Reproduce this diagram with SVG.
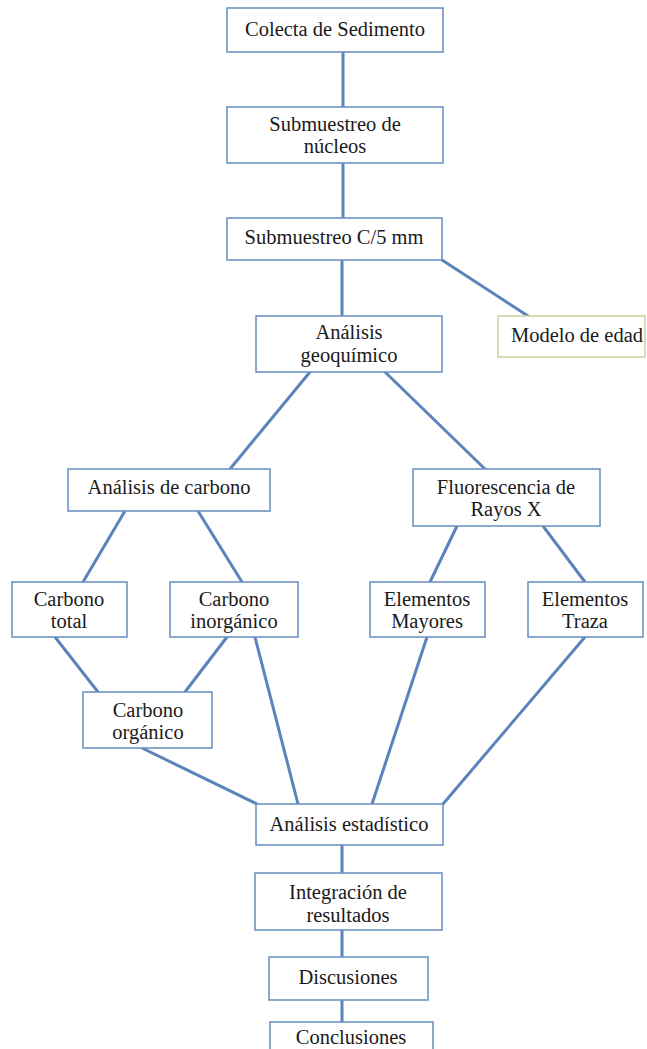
<svg xmlns="http://www.w3.org/2000/svg" width="647" height="1049" viewBox="0 0 647 1049">
<style>
.b{fill:#ffffff;stroke:#6f93c4;stroke-width:1.6}
.g{fill:#ffffff;stroke:#c6d89f;stroke-width:1.6}
.c{stroke:#5b84bb;stroke-width:3;fill:none;stroke-linecap:round}
text{font-family:"Liberation Serif","Times New Roman",serif;font-size:20.5px;fill:#1a1a1a;text-anchor:middle}
</style>
<rect width="647" height="1049" fill="#ffffff"/>
<g id="connectors">
<line class="c" x1="343" y1="52" x2="343" y2="107"/>
<line class="c" x1="343" y1="163" x2="343" y2="218"/>
<line class="c" x1="342" y1="260" x2="342" y2="316"/>
<line class="c" x1="442" y1="260" x2="528" y2="316"/>
<line class="c" x1="310" y1="372" x2="230" y2="469"/>
<line class="c" x1="385" y1="372" x2="485" y2="469"/>
<line class="c" x1="125" y1="511" x2="83" y2="582"/>
<line class="c" x1="198" y1="511" x2="242" y2="582"/>
<line class="c" x1="457" y1="526" x2="430" y2="582"/>
<line class="c" x1="543" y1="526" x2="585" y2="582"/>
<line class="c" x1="55" y1="637" x2="98" y2="692"/>
<line class="c" x1="227" y1="637" x2="185" y2="692"/>
<line class="c" x1="255" y1="637" x2="298" y2="804"/>
<line class="c" x1="142" y1="748" x2="257" y2="804"/>
<line class="c" x1="427" y1="637" x2="372" y2="804"/>
<line class="c" x1="585" y1="637" x2="443" y2="804"/>
<line class="c" x1="342" y1="845" x2="342" y2="873"/>
<line class="c" x1="342" y1="930" x2="342" y2="957"/>
<line class="c" x1="342" y1="1000" x2="342" y2="1022"/>
</g>
<g id="colecta"><rect class="b" x="227" y="8" width="216" height="44"/><text x="335" y="36">Colecta de Sedimento</text></g>
<g id="submuestreo-nucleos"><rect class="b" x="227" y="107" width="216" height="56"/><text x="335" y="131">Submuestreo de</text><text x="335" y="153">núcleos</text></g>
<g id="submuestreo-c5"><rect class="b" x="227" y="218" width="215" height="42"/><text x="334" y="244">Submuestreo C/5 mm</text></g>
<g id="analisis-geoquimico"><rect class="b" x="256" y="316" width="186" height="56"/><text x="349" y="339">Análisis</text><text x="349" y="362">geoquímico</text></g>
<g id="modelo-edad"><rect class="g" x="498" y="316" width="147" height="41"/><text x="577" y="342">Modelo de edad</text></g>
<g id="analisis-carbono"><rect class="b" x="68" y="469" width="202" height="42"/><text x="169" y="494">Análisis de carbono</text></g>
<g id="fluorescencia"><rect class="b" x="413" y="469" width="187" height="57"/><text x="506" y="494">Fluorescencia de</text><text x="506" y="516">Rayos X</text></g>
<g id="carbono-total"><rect class="b" x="12" y="582" width="115" height="55"/><text x="69" y="606">Carbono</text><text x="69" y="628">total</text></g>
<g id="carbono-inorganico"><rect class="b" x="170" y="582" width="128" height="55"/><text x="234" y="606">Carbono</text><text x="234" y="628">inorgánico</text></g>
<g id="elementos-mayores"><rect class="b" x="370" y="582" width="115" height="55"/><text x="427" y="606">Elementos</text><text x="427" y="628">Mayores</text></g>
<g id="elementos-traza"><rect class="b" x="528" y="582" width="115" height="55"/><text x="585" y="606">Elementos</text><text x="585" y="628">Traza</text></g>
<g id="carbono-organico"><rect class="b" x="83" y="692" width="129" height="56"/><text x="148" y="717">Carbono</text><text x="148" y="739">orgánico</text></g>
<g id="analisis-estadistico"><rect class="b" x="256" y="804" width="187" height="41"/><text x="349" y="831">Análisis estadístico</text></g>
<g id="integracion"><rect class="b" x="255" y="873" width="187" height="57"/><text x="348" y="899">Integración de</text><text x="348" y="922">resultados</text></g>
<g id="discusiones"><rect class="b" x="269" y="957" width="159" height="43"/><text x="348" y="984">Discusiones</text></g>
<g id="conclusiones"><rect class="b" x="270" y="1022" width="163" height="40"/><text x="351" y="1044">Conclusiones</text></g>
</svg>
